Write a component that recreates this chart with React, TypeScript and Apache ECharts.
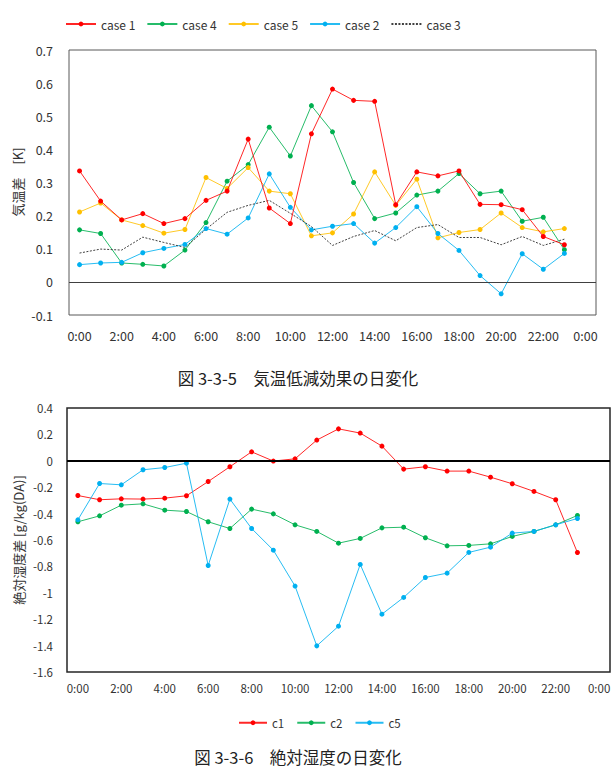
import React, { useEffect, useRef } from "react";
import * as echarts from "echarts";

// Hour labels for the category axes (0:00 .. 23:00, then 0:00 of the next day)
const hourLabels: string[] = Array.from({ length: 25 }, (_, h) => `${h % 24}:00`);

// 図 3-3-5 — air temperature difference [K]
const case1: number[] = [0.335, 0.244, 0.187, 0.206, 0.176, 0.191, 0.246, 0.274, 0.431, 0.223, 0.176, 0.447, 0.582, 0.548, 0.545, 0.233, 0.332, 0.32, 0.335, 0.234, 0.233, 0.218, 0.137, 0.112];
const case4: number[] = [0.157, 0.146, 0.057, 0.053, 0.048, 0.096, 0.179, 0.304, 0.354, 0.467, 0.38, 0.532, 0.453, 0.3, 0.191, 0.208, 0.262, 0.274, 0.327, 0.266, 0.274, 0.183, 0.195, 0.097];
const case5: number[] = [0.211, 0.238, 0.187, 0.17, 0.147, 0.158, 0.315, 0.282, 0.345, 0.274, 0.266, 0.139, 0.148, 0.205, 0.332, 0.231, 0.31, 0.133, 0.149, 0.158, 0.208, 0.164, 0.151, 0.161];
const case2: number[] = [0.052, 0.057, 0.059, 0.088, 0.101, 0.113, 0.161, 0.144, 0.193, 0.326, 0.225, 0.157, 0.168, 0.176, 0.117, 0.164, 0.227, 0.146, 0.095, 0.019, -0.036, 0.085, 0.038, 0.086];
const case3: number[] = [0.087, 0.099, 0.096, 0.135, 0.119, 0.104, 0.159, 0.21, 0.231, 0.246, 0.207, 0.167, 0.11, 0.137, 0.155, 0.124, 0.164, 0.173, 0.134, 0.134, 0.112, 0.137, 0.11, 0.129];

// 図 3-3-6 — absolute humidity difference [g/kg(DA)]
const c1: number[] = [-0.263, -0.295, -0.288, -0.29, -0.283, -0.265, -0.157, -0.045, 0.068, -0.002, 0.015, 0.157, 0.242, 0.21, 0.111, -0.063, -0.045, -0.078, -0.078, -0.124, -0.174, -0.232, -0.295, -0.695];
const c2: number[] = [-0.462, -0.417, -0.336, -0.326, -0.374, -0.384, -0.462, -0.513, -0.366, -0.402, -0.485, -0.535, -0.624, -0.588, -0.508, -0.503, -0.583, -0.644, -0.641, -0.629, -0.573, -0.535, -0.485, -0.414];
const c5: number[] = [-0.447, -0.172, -0.182, -0.068, -0.051, -0.018, -0.793, -0.29, -0.513, -0.677, -0.949, -1.402, -1.253, -0.785, -1.162, -1.035, -0.884, -0.851, -0.694, -0.654, -0.548, -0.535, -0.485, -0.437];

const FONT = "'Noto Sans CJK JP', 'Noto Sans', sans-serif";
const RED = "#FF0000";
const GREEN = "#00B050";
const YELLOW = "#FFC000";
const BLUE = "#00B0F0";

function lineSeries(name: string, data: number[], color: string, axisIndex: number, extra: any = {}) {
  return {
    name,
    type: "line",
    xAxisIndex: axisIndex,
    yAxisIndex: axisIndex,
    data,
    symbol: "circle",
    symbolSize: 5,
    itemStyle: { color },
    lineStyle: { color, width: 1, opacity: 0.85 },
    ...extra,
  };
}

function zeroLine(color: string, width: number) {
  return {
    silent: true,
    symbol: "none",
    label: { show: false },
    lineStyle: { color, width, type: "solid", opacity: 1 },
    data: [{ yAxis: 0 }],
  };
}

export default function App() {
  const ref = useRef<HTMLDivElement>(null);

  useEffect(() => {
    document.body.style.margin = "0";
    if (!ref.current) return;
    const chart = echarts.init(ref.current, undefined, { renderer: "svg" });

    const xAxisCommon = {
      type: "category",
      data: hourLabels,
      boundaryGap: true,
      axisTick: { show: false },
      axisLine: { show: false, onZero: false },
      splitLine: { show: false },
    };

    const option: any = {
      animation: false,
      backgroundColor: "#ffffff",
      textStyle: { fontFamily: FONT },
      legend: [
        {
          left: 60,
          top: 13,
          itemWidth: 30,
          itemHeight: 6,
          itemGap: 11,
          textStyle: { fontFamily: FONT, fontSize: 12, color: "#333" },
          data: [
            "case 1",
            "case 4",
            "case 5",
            "case 2",
            { name: "case 3", itemStyle: { opacity: 0 } },
          ],
        },
        {
          left: 233,
          top: 712,
          itemWidth: 28,
          itemHeight: 6,
          itemGap: 12,
          textStyle: { fontFamily: FONT, fontSize: 11.5, color: "#333" },
          data: ["c1", "c2", "c5"],
        },
      ],
      grid: [
        { left: 69, top: 50, width: 527, height: 265, show: true, borderColor: "#595959", borderWidth: 1, containLabel: false },
        { left: 67, top: 408, width: 543, height: 264, show: true, borderColor: "#262626", borderWidth: 1.5, containLabel: false },
      ],
      xAxis: [
        {
          ...xAxisCommon,
          gridIndex: 0,
          axisLabel: { interval: 1, margin: 14, fontSize: 12.5, color: "#333", fontFamily: FONT },
        },
        {
          ...xAxisCommon,
          gridIndex: 1,
          axisLabel: { interval: 1, margin: 10, fontSize: 11.5, color: "#333", fontFamily: FONT },
        },
      ],
      yAxis: [
        {
          type: "value",
          gridIndex: 0,
          min: -0.1,
          max: 0.7,
          interval: 0.1,
          axisLine: { show: false },
          axisTick: { show: false },
          splitLine: { show: false },
          axisLabel: {
            margin: 16,
            fontSize: 12.5,
            color: "#333",
            fontFamily: FONT,
            formatter: (v: number) => String(Math.round(v * 10) / 10),
          },
        },
        {
          type: "value",
          gridIndex: 1,
          min: -1.6,
          max: 0.4,
          interval: 0.2,
          axisLine: { show: false },
          axisTick: { show: false },
          splitLine: { show: false },
          axisLabel: {
            margin: 14,
            fontSize: 11.5,
            color: "#333",
            fontFamily: FONT,
            formatter: (v: number) => String(Math.round(v * 10) / 10),
          },
        },
      ],
      series: [
        lineSeries("case 1", case1, RED, 0, { markLine: zeroLine("#404040", 1), z: 5 }),
        lineSeries("case 4", case4, GREEN, 0),
        lineSeries("case 5", case5, YELLOW, 0),
        lineSeries("case 2", case2, BLUE, 0),
        {
          name: "case 3",
          type: "line",
          xAxisIndex: 0,
          yAxisIndex: 0,
          data: case3,
          symbol: "none",
          itemStyle: { color: "#404040" },
          lineStyle: { color: "#404040", width: 1, type: [2, 1.5] },
        },
        lineSeries("c1", c1, RED, 1, { markLine: zeroLine("#000000", 2) }),
        lineSeries("c2", c2, GREEN, 1),
        lineSeries("c5", c5, BLUE, 1),
      ],
      graphic: [
        {
          type: "text",
          x: 17,
          y: 182,
          rotation: Math.PI / 2,
          style: {
            text: "気温差　[K]",
            font: `13px ${FONT}`,
            fill: "#333",
            align: "center",
            verticalAlign: "middle",
          },
        },
        {
          type: "text",
          x: 18,
          y: 540,
          rotation: Math.PI / 2,
          style: {
            text: "絶対湿度差 [g/kg(DA)]",
            font: `13px ${FONT}`,
            fill: "#333",
            align: "center",
            verticalAlign: "middle",
          },
        },
        {
          type: "text",
          x: 298,
          y: 378,
          style: {
            text: "図 3-3-5　気温低減効果の日変化",
            font: `16.5px ${FONT}`,
            fill: "#222",
            align: "center",
            verticalAlign: "middle",
          },
        },
        {
          type: "text",
          x: 298,
          y: 757,
          style: {
            text: "図 3-3-6　絶対湿度の日変化",
            font: `16.5px ${FONT}`,
            fill: "#222",
            align: "center",
            verticalAlign: "middle",
          },
        },
      ],
    };

    chart.setOption(option);
    return () => {
      chart.dispose();
    };
  }, []);

  return <div ref={ref} style={{ width: 616, height: 773 }} />;
}
